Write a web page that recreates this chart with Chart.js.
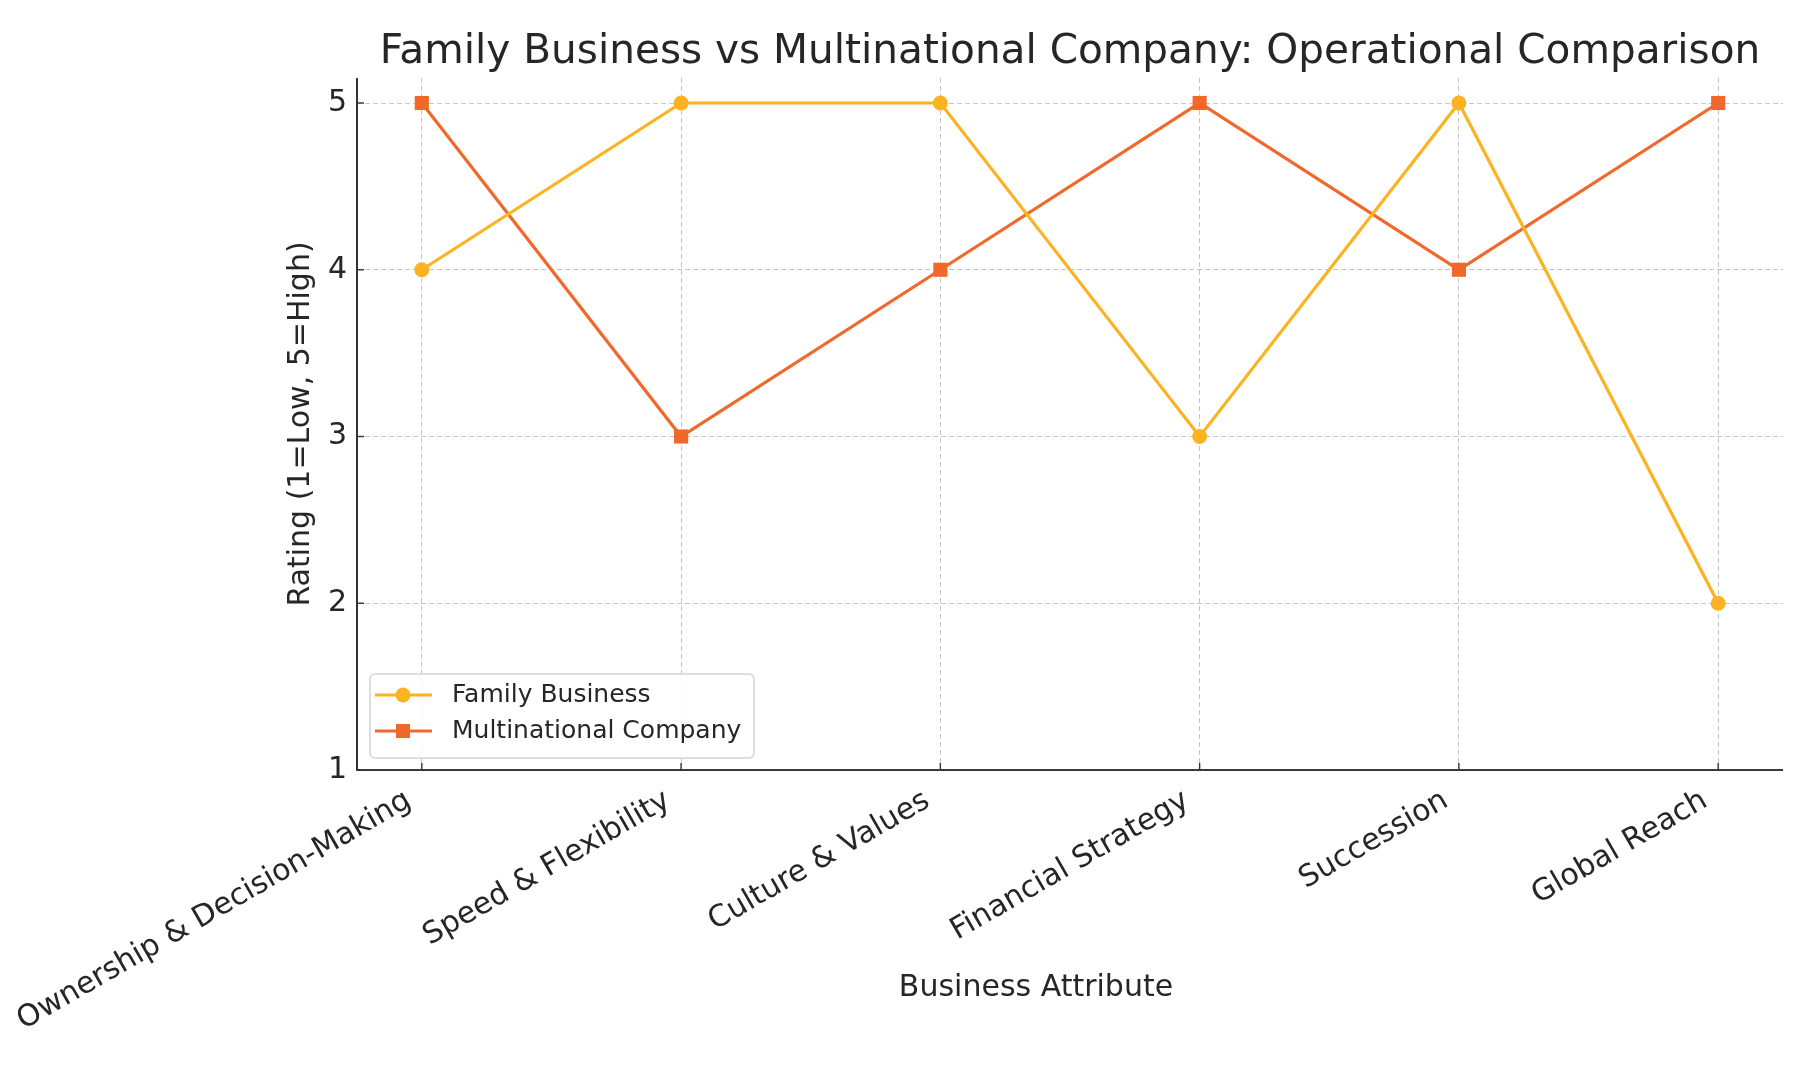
<!DOCTYPE html>
<html>
<head>
<meta charset="utf-8">
<script src="https://cdn.jsdelivr.net/npm/chart.js@4/dist/chart.umd.min.js"></script>
<style>
  html, body { margin: 0; padding: 0; background: #fff; }
  canvas { display: block; }
</style>
</head>
<body>
<canvas id="graph1" width="1800" height="1073"></canvas>
<script>
var attributes = ['Ownership & Decision-Making', 'Speed & Flexibility', 'Culture & Values',
    'Financial Strategy', 'Succession', 'Global Reach'];
var familyBusiness = [4, 5, 5, 3, 5, 2];
var multinationalCompany = [5, 3, 4, 5, 4, 5];
var yTicks = [1, 2, 3, 4, 5];

var chartTitle = 'Family Business vs Multinational Company: Operational Comparison';
var xTitle = 'Business Attribute';
var yTitle = 'Rating (1=Low, 5=High)';

var familyColor = '#FCB322';
var multiColor = '#F0692A';
var textColor = '#262626';

function toPoints(values) {
    return values.map((v, i) => ({ x: i, y: v }));
}

// title, spines, inward ticks, x label and legend, drawn the matplotlib way
var decorations = {
    id: 'decorations',
    afterDraw(chart) {
        var ctx = chart.ctx;
        var area = chart.chartArea;
        var xs = chart.scales.x, ys = chart.scales.y;
        ctx.save();

        ctx.fillStyle = textColor;
        ctx.textAlign = 'center';
        ctx.textBaseline = 'middle';
        ctx.font = '40.6px "DejaVu Sans"';
        ctx.fillText(chartTitle, (area.left + area.right) / 2, 52);
        ctx.font = '30px "DejaVu Sans"';
        ctx.fillText(xTitle, area.left + 679, 988);

        ctx.strokeStyle = '#000000';
        ctx.lineWidth = 1.6;
        ctx.beginPath();
        ctx.moveTo(area.left, area.top);
        ctx.lineTo(area.left, area.bottom);
        ctx.lineTo(area.right, area.bottom);
        ctx.stroke();
        ctx.strokeStyle = '#333333';
        ctx.lineWidth = 1.4;
        xs.ticks.forEach(t => {
            var px = xs.getPixelForValue(t.value);
            ctx.beginPath();
            ctx.moveTo(px, area.bottom);
            ctx.lineTo(px, area.bottom - 7);
            ctx.stroke();
        });
        ys.ticks.forEach(t => {
            var py = ys.getPixelForValue(t.value);
            ctx.beginPath();
            ctx.moveTo(area.left, py);
            ctx.lineTo(area.left + 7, py);
            ctx.stroke();
        });

        var x0 = area.left + 13, y0 = area.bottom - 96, w = 384, h = 84;
        ctx.beginPath();
        ctx.roundRect(x0, y0, w, h, 5);
        ctx.fillStyle = 'rgba(255,255,255,0.85)';
        ctx.fill();
        ctx.strokeStyle = '#d5d5d5';
        ctx.lineWidth = 1.5;
        ctx.stroke();
        ctx.textAlign = 'left';
        chart.data.datasets.forEach((ds, i) => {
            var cy = y0 + 21 + i * 36;
            ctx.strokeStyle = ds.borderColor;
            ctx.lineWidth = 3;
            ctx.beginPath();
            ctx.moveTo(x0 + 5, cy);
            ctx.lineTo(x0 + 62, cy);
            ctx.stroke();
            ctx.fillStyle = ds.borderColor;
            if (ds.pointStyle === 'rect') {
                ctx.fillRect(x0 + 33 - 7, cy - 7, 14, 14);
            } else {
                ctx.beginPath();
                ctx.arc(x0 + 33, cy, 7.5, 0, Math.PI * 2);
                ctx.fill();
            }
            ctx.fillStyle = textColor;
            ctx.font = '25px "DejaVu Sans"';
            ctx.fillText(ds.label, x0 + 82, cy);
        });
        ctx.restore();
    }
};

var ctx = document.getElementById('graph1').getContext('2d');
var data = {
    datasets: [
        {
            label: 'Family Business',
            data: toPoints(familyBusiness),
            borderColor: familyColor,
            backgroundColor: familyColor,
            pointStyle: 'circle',
            pointRadius: 7.5,
            pointHoverRadius: 7.5
        },
        {
            label: 'Multinational Company',
            data: toPoints(multinationalCompany),
            borderColor: multiColor,
            backgroundColor: multiColor,
            pointStyle: 'rect',
            pointRadius: 10,
            pointHoverRadius: 10
        }
    ]
};

var gridOpts = {
    color: '#c6c6c6',
    lineWidth: 1,
    drawTicks: false
};
var borderOpts = { display: false, dash: [5, 3] };

var config = {
    type: 'line',
    data: data,
    plugins: [decorations],
    options: {
        responsive: false,
        animation: false,
        devicePixelRatio: 1,
        layout: { padding: { left: 0, right: 17, top: 78, bottom: 0 } },
        elements: {
            line: { borderWidth: 3.2, tension: 0 },
            point: { borderWidth: 0 }
        },
        plugins: {
            legend: { display: false },
            tooltip: { enabled: false },
            title: { display: false }
        },
        scales: {
            x: {
                type: 'linear',
                min: -0.25,
                max: 5.25,
                afterBuildTicks(scale) {
                    scale.ticks = attributes.map((_, i) => ({ value: i }));
                },
                afterFit(scale) { scale.height = 303; },
                ticks: {
                    autoSkip: false,
                    maxRotation: 30,
                    minRotation: 30,
                    padding: 13,
                    labelOffset: -13,
                    color: textColor,
                    font: { family: 'DejaVu Sans', size: 30 },
                    callback: (v) => attributes[v]
                },
                grid: gridOpts,
                border: borderOpts
            },
            y: {
                min: 1,
                max: 5.15,
                afterBuildTicks(scale) {
                    scale.ticks = yTicks.map(v => ({ value: v }));
                },
                afterFit(scale) { scale.width = 357; },
                ticks: {
                    padding: 10,
                    color: textColor,
                    font: { family: 'DejaVu Sans', size: 30 }
                },
                grid: gridOpts,
                border: borderOpts,
                title: {
                    display: true,
                    text: yTitle,
                    color: textColor,
                    font: { family: 'DejaVu Sans', size: 30 },
                    padding: { top: 283, bottom: 4 }
                }
            }
        }
    }
};
var graph1 = new Chart(ctx, config);
</script>
</body>
</html>
